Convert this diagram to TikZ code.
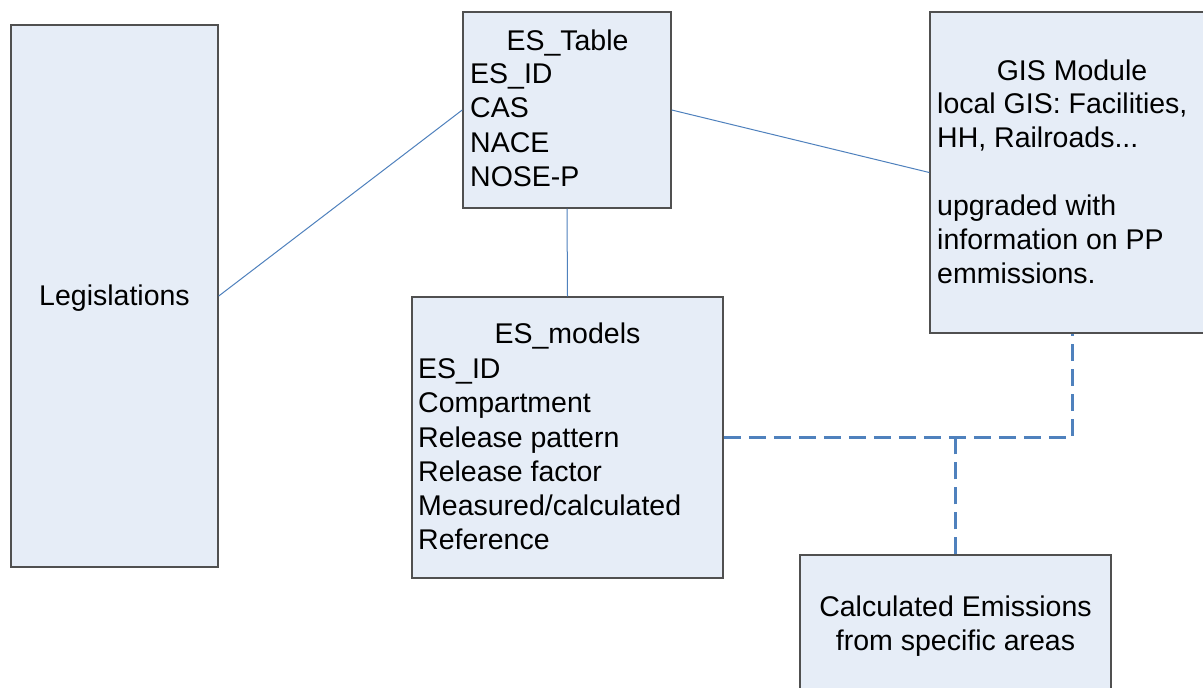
\documentclass[tikz,border=0pt]{standalone}
\usepackage{fontspec}
\setmainfont{Liberation Sans}
\definecolor{boxfill}{HTML}{E6EDF7}
\definecolor{boxline}{HTML}{505050}
\definecolor{linkblue}{HTML}{4F81BD}
\begin{document}
\begin{tikzpicture}[x=1pt,y=-1pt,
  box/.style={draw=boxline, fill=boxfill, line width=1.5pt, rectangle, inner sep=0pt},
  txt/.style={inner sep=0pt, font=\fontsize{28.5}{34.5}\selectfont},
  lt/.style={txt, anchor=base west},
  ct/.style={txt, anchor=base},
  thin/.style={draw=linkblue, line width=1pt},
  dlink/.style={draw=linkblue, line width=3pt, dash pattern=on 17pt off 8pt}]
\clip (0,0) rectangle (1203,688);
\fill[white] (0,0) rectangle (1203,688);
% boxes
\node[box, minimum width=207pt, minimum height=542pt] (leg) at (114.5,296) {};
\node[box, minimum width=208pt, minimum height=196pt] (et) at (567,110) {};
\node[box, minimum width=284pt, minimum height=321pt] (gis) at (1072,172.5) {};
\node[box, minimum width=311pt, minimum height=281pt] (esm) at (567.5,437.5) {};
\node[box, minimum width=311pt, minimum height=205pt] (calc) at (955.5,657.5) {};
% connectors
\draw[thin] (leg.east) -- (et.west);
\draw[thin] (et.east) -- (gis.west);
\draw[thin] (et.south) -- (esm.north);
\draw[dlink] (esm.east) -| (gis.south);
\draw[dlink] (calc.north) -- (calc.north |- esm.east);
% texts
\node[ct] (legt) at (114.5,305) {Legislations};
\node[ct] (ett) at (567.5,50) {ES\_Table};
\node[lt] (et1) at (470,83) {ES\_ID};
\node[lt] (et2) at (470,117) {CAS};
\node[lt] (et3) at (470,152) {NACE};
\node[lt] (et4) at (470,186) {NOSE-P};
\node[ct] (gist) at (1072,80) {GIS Module};
\node[lt] (gis1) at (937,113) {local GIS: Facilities,};
\node[lt] (gis2) at (937,147) {HH, Railroads...};
\node[lt] (gis3) at (937,215) {upgraded with};
\node[lt] (gis4) at (937,249) {information on PP};
\node[lt] (gis5) at (937,283) {emmissions.};
\node[ct] (esmt) at (567.5,343) {ES\_models};
\node[lt] (esm1) at (418,378) {ES\_ID};
\node[lt] (esm2) at (418,412) {Compartment};
\node[lt] (esm3) at (418,447) {Release pattern};
\node[lt] (esm4) at (418,481) {Release factor};
\node[lt] (esm5) at (418,515) {Measured/calculated};
\node[lt] (esm6) at (418,549) {Reference};
\node[ct] (calc1) at (955.5,616) {Calculated Emissions};
\node[ct] (calc2) at (955.5,650) {from specific areas};
\end{tikzpicture}
\end{document}
